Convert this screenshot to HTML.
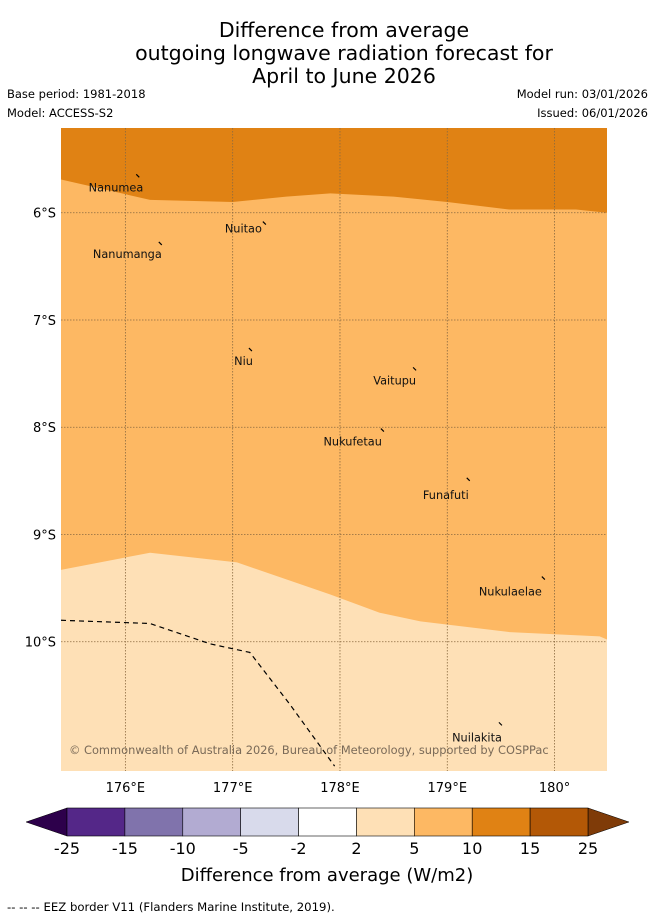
<!DOCTYPE html>
<html><head><meta charset="utf-8"><style>
body{margin:0;background:#fff;width:655px;height:919px;overflow:hidden;font-family:"Liberation Sans","DejaVu Sans",sans-serif}
svg{display:block}
</style></head><body>
<svg width="655" height="919" viewBox="0 0 655 919" font-family="'DejaVu Sans','Liberation Sans',sans-serif">
<g font-size="20.5" text-anchor="middle" fill="#000">
<text x="344" y="37">Difference from average</text>
<text x="344" y="60">outgoing longwave radiation forecast for</text>
<text x="344" y="83">April to June 2026</text>
</g>
<g font-size="11.5" fill="#000">
<text x="7" y="98">Base period: 1981-2018</text>
<text x="7" y="117">Model: ACCESS-S2</text>
<text x="648" y="98" text-anchor="end">Model run: 03/01/2026</text>
<text x="648" y="117" text-anchor="end">Issued: 06/01/2026</text>
</g>
<defs><clipPath id="mc"><rect x="61" y="128" width="546" height="643"/></clipPath></defs>
<g id="map" clip-path="url(#mc)"></g>
<g id="axes"></g>
<g id="cbar"></g>
<text x="327" y="881" font-size="18" text-anchor="middle">Difference from average (W/m2)</text>
<text x="7" y="911" font-size="11.7">--  --  -- EEZ border V11 (Flanders Marine Institute, 2019).</text>
</svg>
<script>
const lonTicks=[176,177,178,179,180];
const latTicks=[6,7,8,9,10];
const upperLon=[175.4,176.23,176.6,177.0,177.5,177.91,178.5,179.0,179.58,180.2,180.49];
const upperLat=[5.69,5.88,5.89,5.9,5.85,5.82,5.85,5.9,5.97,5.97,6.0];
const lowerLon=[175.4,176.23,177.04,177.91,178.37,178.75,179.58,180.42,180.49];
const lowerLat=[9.33,9.17,9.26,9.56,9.73,9.81,9.91,9.95,9.98];
const eezLon=[175.4,176.23,176.79,177.16,177.53,177.95];
const eezLat=[9.8,9.83,10.02,10.1,10.58,11.16];
const islandNames=["Nanumea","Nuitao","Nanumanga","Niu","Vaitupu","Nukufetau","Funafuti","Nukulaelae","Nuilakita"];
const islandLon=[176.12,177.3,176.33,177.17,178.7,178.4,179.2,179.9,179.5];
const islandLat=[5.67,6.11,6.3,7.29,7.47,8.04,8.5,9.42,10.78];
const labelDx=[5,-3,1,2,1,-1,0,-2,1];
const labelDy=[14,8,13,14,14,14,18,16,16];
const cbarBounds=["-25","-15","-10","-5","-2","2","5","10","15","25"];
const cbarColors=["#542788","#8073ac","#b2abd2","#d8daeb","#ffffff","#fee0b6","#fdb863","#e08214","#b35806"];
const NS="http://www.w3.org/2000/svg";
const X=lon=>61+(lon-175.4)*107.3;
const Y=lat=>128+(lat-5.21)*107.25;
function mk(t,a,p){const e=document.createElementNS(NS,t);for(const k in a)e.setAttribute(k,a[k]);p.appendChild(e);return e;}
const map=document.getElementById('map');
let r=mk('rect',{x:61,y:128,width:546,height:643,fill:'#e08214'},map);


let d='M'+upperLon.map((v,i)=>X(v)+','+Y(upperLat[i])).join(' L')+' L620,780 L50,780Z';
let p=mk('path',{d:d,fill:'#fdb863'},map);


d='M'+lowerLon.map((v,i)=>X(v)+','+Y(lowerLat[i])).join(' L')+' L620,780 L50,780Z';
p=mk('path',{d:d,fill:'#fee0b6'},map);


lonTicks.forEach(v=>{let l=mk('line',{x1:X(v),x2:X(v),y1:128,y2:771,stroke:'#8a6a40','stroke-width':0.8,'stroke-dasharray':'1.5,1.5'},map);

});
latTicks.forEach(v=>{let l=mk('line',{x1:61,x2:607,y1:Y(v),y2:Y(v),stroke:'#8a6a40','stroke-width':0.8,'stroke-dasharray':'1.5,1.5'},map);

});
p=mk('path',{d:'M'+eezLon.map((v,i)=>X(v)+','+Y(eezLat[i])).join(' L'),fill:'none',stroke:'#000','stroke-width':1.2,'stroke-dasharray':'5,4'},map);


islandNames.forEach((n,i)=>{const x=X(islandLon[i]),y=Y(islandLat[i]);
let s=mk('path',{d:`M${x-2},${y-3} L${x+1},${y}`,stroke:'#000','stroke-width':1.2},map);


let t=mk('text',{x:x+labelDx[i],y:y+labelDy[i],'font-size':11.3,'text-anchor':'end',fill:'#111'},map);t.textContent=n;

});
let c=mk('text',{x:69,y:754,'font-size':11.4,fill:'#7a6a58'},map);c.textContent='© Commonwealth of Australia 2026, Bureau of Meteorology, supported by COSPPac';


const ax=document.getElementById('axes');
lonTicks.forEach(v=>{let t=mk('text',{x:X(v),y:792,'font-size':13,'text-anchor':'middle'},ax);t.textContent=v===180?'180°':v+'°E';

});
latTicks.forEach(v=>{let t=mk('text',{x:56,y:Y(v)+5,'font-size':13,'text-anchor':'end'},ax);t.textContent=v+'°S';

});
const cb=document.getElementById('cbar');
const cx0=67,cw=(588-67)/cbarColors.length,cy=808,ch=28;
let a=mk('path',{d:`M${cx0},${cy} L26,${cy+ch/2} L${cx0},${cy+ch}Z`,fill:'#2d004b',stroke:'#000','stroke-width':0.5},cb);


a=mk('path',{d:`M588,${cy} L629,${cy+ch/2} L588,${cy+ch}Z`,fill:'#7f3b08',stroke:'#000','stroke-width':0.5},cb);


cbarColors.forEach((col,i)=>{let b=mk('rect',{x:cx0+i*cw,y:cy,width:cw,height:ch,fill:col,stroke:'#000','stroke-width':0.6},cb);

});
cbarBounds.forEach((s,i)=>{let t=mk('text',{x:cx0+i*cw,y:854,'font-size':16,'text-anchor':'middle'},cb);t.textContent=s;

});
</script>
</body></html>
